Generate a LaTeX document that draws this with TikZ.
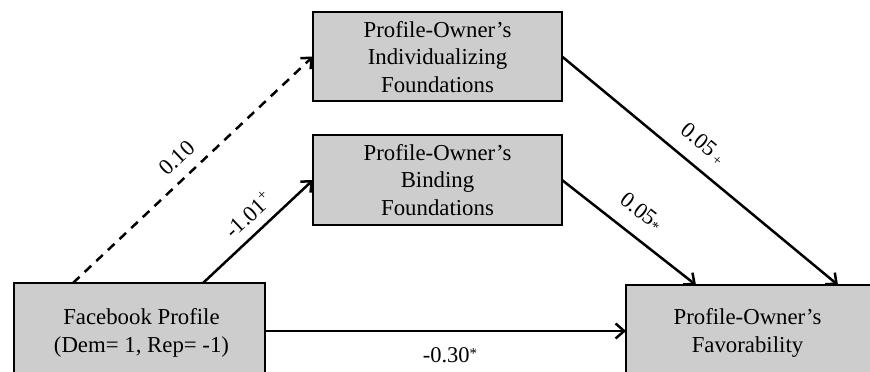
\documentclass[tikz,border=0pt]{standalone}
\usepackage{fontspec}
\setmainfont{Liberation Serif}
\usetikzlibrary{arrows.meta}
\definecolor{boxgray}{RGB}{205,205,205}
\newcommand{\smallmark}[1]{{\fontsize{15}{15}\selectfont #1}}
\begin{document}
\begin{tikzpicture}[x=1pt,y=-1pt,
  box/.style={draw=black, line width=2.8pt, fill=boxgray, inner sep=0pt, outer sep=0pt},
  txt/.style={font=\fontsize{22.8}{27.5}\selectfont, align=center, inner sep=0pt},
  arr/.style={line width=2.5pt, -{Straight Barb[length=8.5pt,width=15pt,line width=2.5pt]}},
  lab/.style={font=\fontsize{22.5}{26}\selectfont, inner sep=0pt}]
\useasboundingbox (0,0) rectangle (870,372);
% boxes
\node[box, minimum width=249pt, minimum height=89pt] (ind) at (437.5,56.5) {};
\node[box, minimum width=249pt, minimum height=90pt] (bind) at (437.5,180) {};
\node[box, minimum width=251pt, minimum height=96pt] (fb) at (139.5,331) {};
\node[box, minimum width=264pt, minimum height=92pt] (fav) at (758,331) {};
% texts
\node[txt] (indt) at (437.5,57) {Profile-Owner’s\\Individualizing\\Foundations};
\node[txt] (bindt) at (437.5,180) {Profile-Owner’s\\Binding\\Foundations};
\node[txt] (fbt) at (141.5,333) {Facebook Profile\\(Dem= 1, Rep= -1)};
\node[txt] (favt) at (747.5,333) {Profile-Owner’s\\Favorability};
% connector end points on box edges
\coordinate (fbA) at (73,283);
\coordinate (fbB) at (203,283);
\coordinate (favA) at (696,285);
\coordinate (favB) at (838,285);
% connectors
\draw[arr, dash pattern=on 9pt off 7pt] (fbA) -- (ind.west);
\draw[arr] (fbB) -- (bind.west);
\draw[arr] (ind.east) -- (favB);
\draw[arr] (bind.east) -- (favA);
\draw[arr] (fb.east) -- (fav.west);
% labels
\node[lab, rotate=43.3] (l1) at (177,158) {0.10};
\node[lab, rotate=43.1] (l2) at (248,215) {-1.01\raisebox{8pt}{\smallmark{+}}};
\node[lab, rotate=-39.6] (l3) at (703,144) {0.05\,\raisebox{-2pt}{\smallmark{+}}};
\node[lab, rotate=-38] (l4) at (641,212) {0.05\raisebox{-2pt}{\smallmark{*}}};
\node[lab] (l5) at (450,355) {-0.30\raisebox{4pt}{\smallmark{*}}};
\end{tikzpicture}
\end{document}
